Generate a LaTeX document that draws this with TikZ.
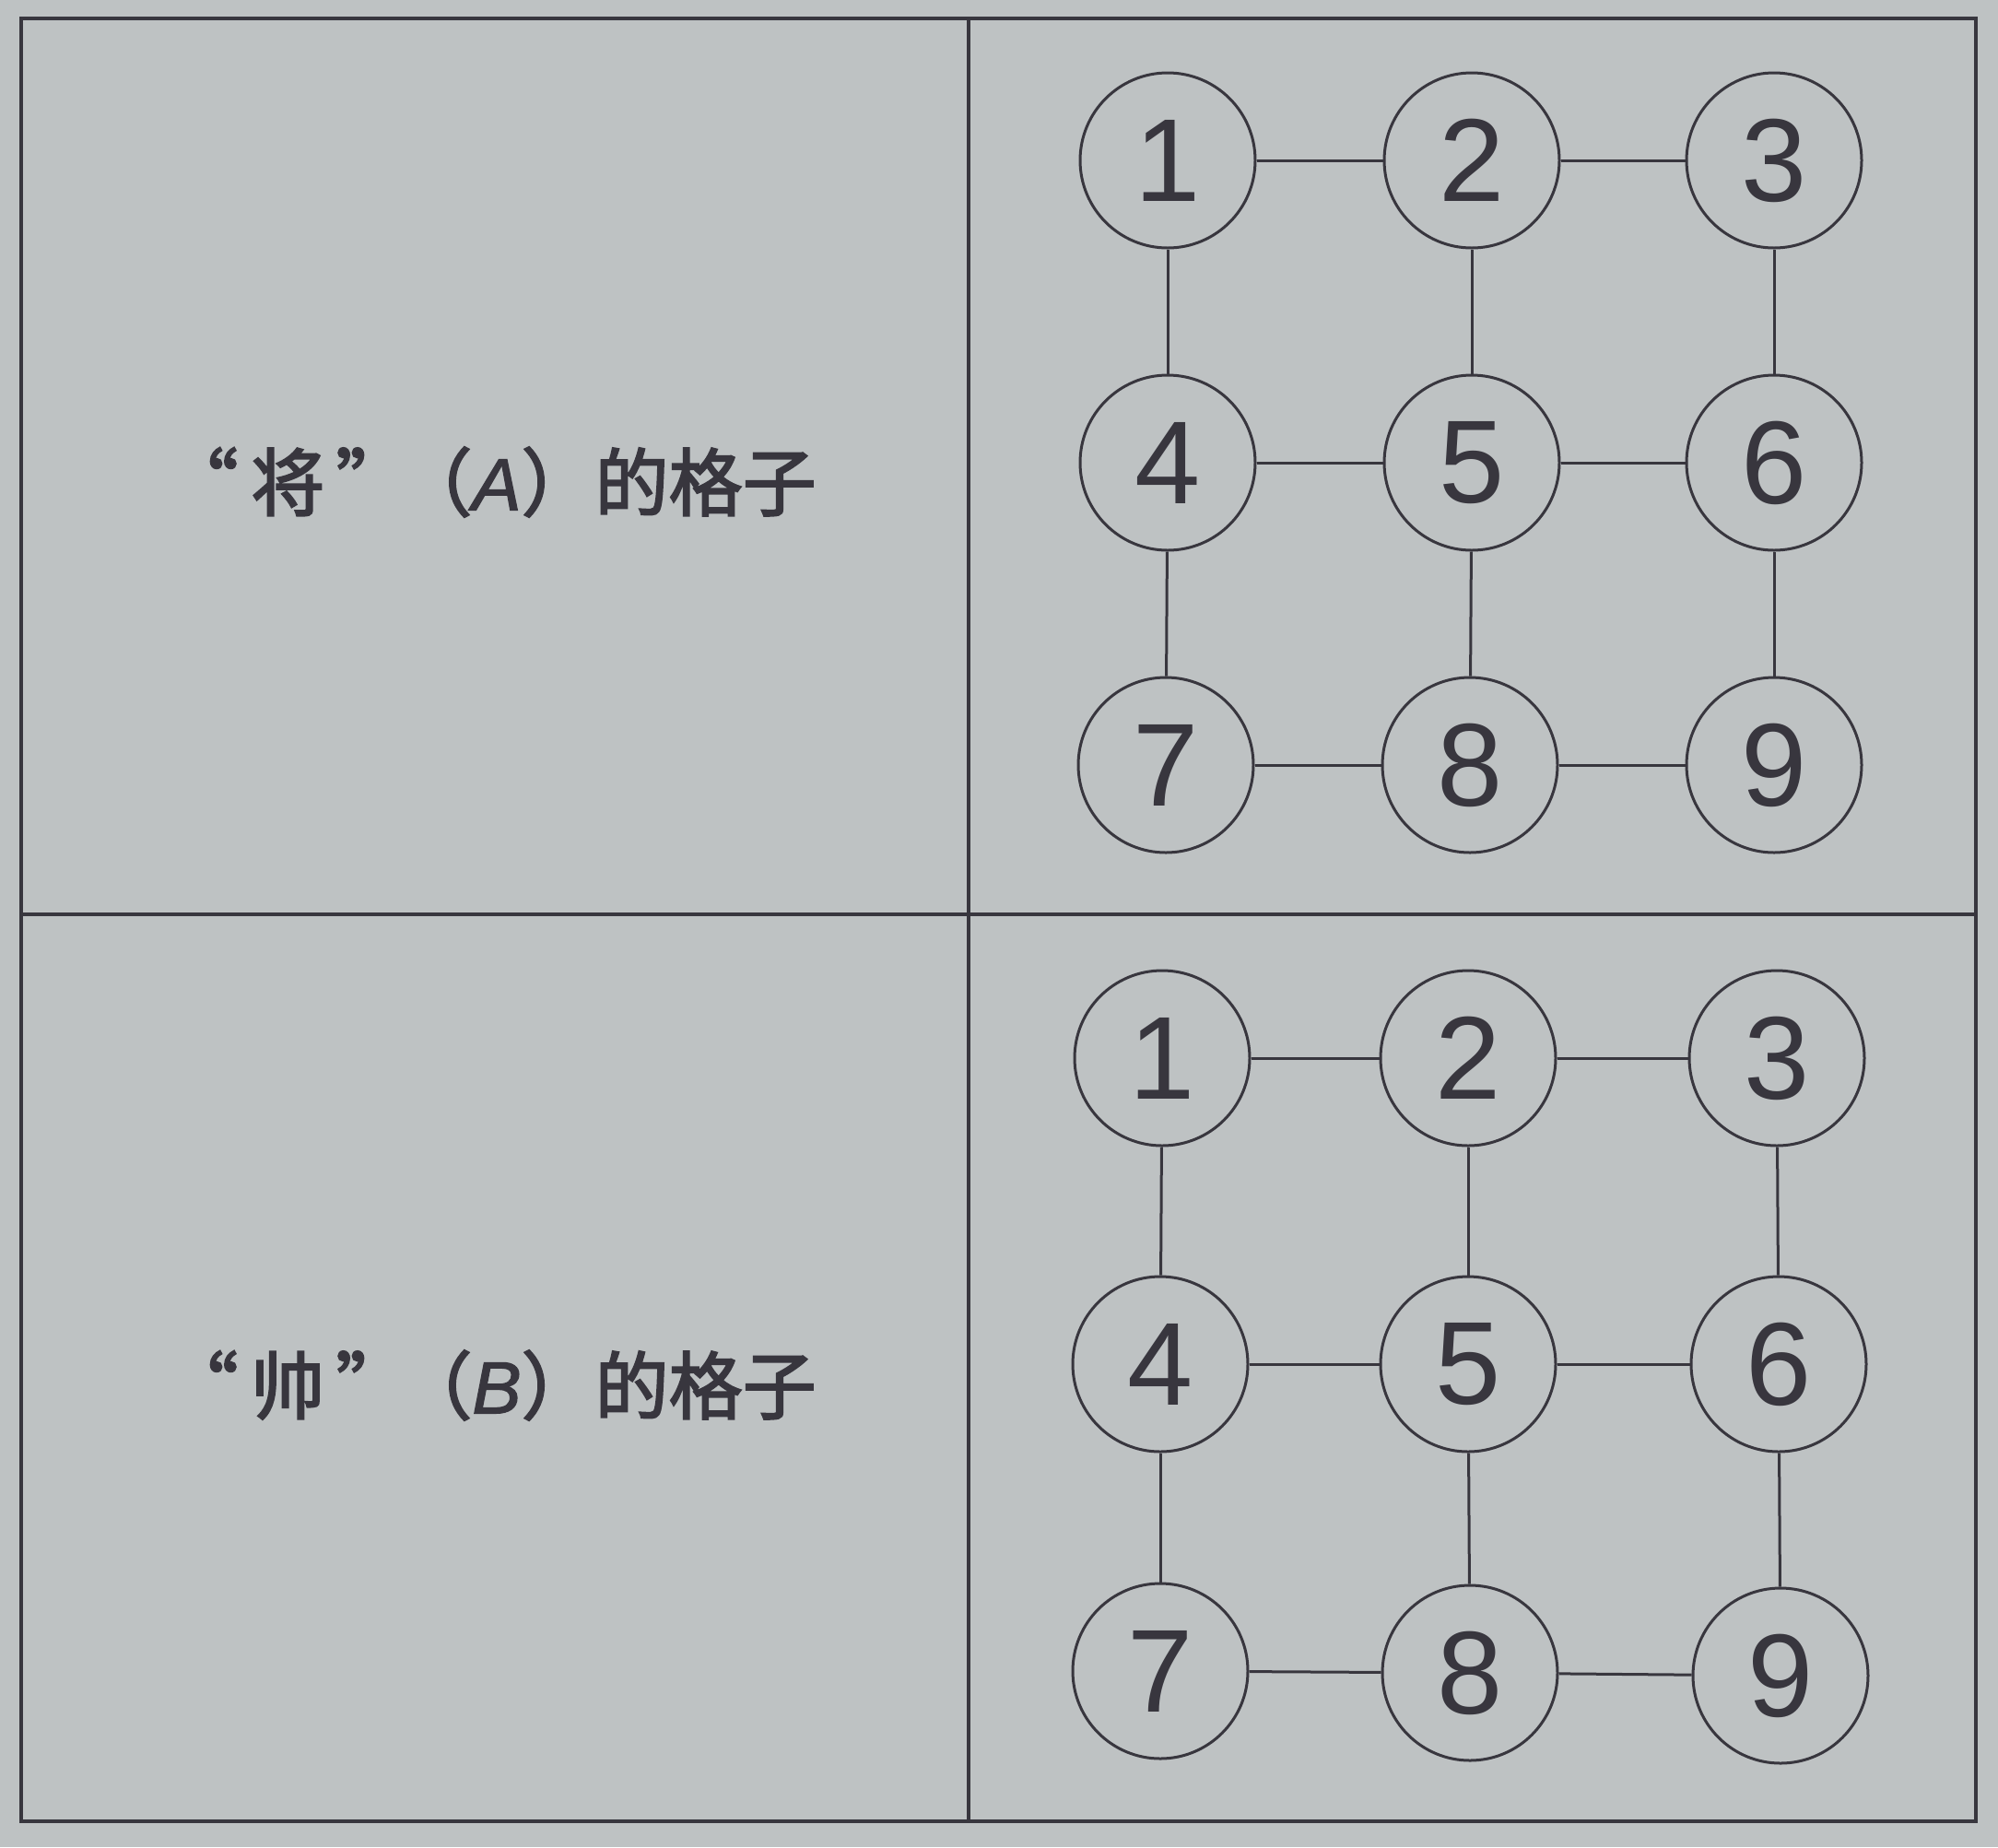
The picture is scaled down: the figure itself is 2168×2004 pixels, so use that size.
\documentclass[tikz,border=0pt]{standalone}
\usepackage{fontspec}
\setmainfont{Liberation Sans}
\newfontfamily\cjk{Noto Sans CJK SC}[FakeBold=2.5]
\newfontfamily\latit{Liberation Sans}[FakeBold=1.5]
\newcommand{\myoq}{\makebox[1em][r]{“\hspace{0.17em}}}
\newcommand{\mycq}{\makebox[1em][l]{\hspace{0.15em}”}}
\definecolor{paper}{RGB}{190,194,195}
\definecolor{ink}{RGB}{56,54,62}
\begin{document}
\begin{tikzpicture}[x=0.5pt,y=-0.5pt,
  cell/.style={circle,draw=ink,line width=1.5pt,minimum size=95pt,inner sep=0pt,
    text=ink,font=\fontsize{64}{64}\selectfont},
  link/.style={draw=ink,line width=1.5pt},
  frame/.style={draw=ink,line width=2pt},
  caption/.style={text=ink,inner sep=0pt,font=\fontsize{40}{40}\selectfont}]
\fill[paper] (0,0) rectangle (2168,2004);
\useasboundingbox (0,0) rectangle (2168,2004);
% frame and dividers
\draw[frame] (23,20) rectangle (2144,1976);
\draw[frame] (1051,20) -- (1051,1976);
\draw[frame] (23,992) -- (2144,992);
% captions
\node[caption] (capA) at (539,523) {{\cjk\myoq 将\mycq（}{\latit\itshape A}{\cjk ）的格子}};
\node[caption] (capB) at (539,1503) {{\cjk\myoq 帅\mycq（}{\latit\itshape B}{\cjk ）的格子}};
% top grid
\foreach \n/\x/\y in {1/1267/174,2/1597/174,3/1925/174,4/1267/502,5/1597/502,6/1925/502,7/1265/830,8/1595/830,9/1925/830}
  \node[cell] (a\n) at (\x,\y) {\n};
% bottom grid
\foreach \n/\x/\y in {1/1261/1148,2/1593/1148,3/1928/1148,4/1259/1480,5/1593/1480,6/1930/1480,7/1259/1813,8/1595/1815,9/1932/1818}
  \node[cell] (b\n) at (\x,\y) {\n};
\foreach \g in {a,b}{
  \foreach \p/\q in {1/2,2/3,4/5,5/6,7/8,8/9,1/4,2/5,3/6,4/7,5/8,6/9}
    \draw[link] (\g\p) -- (\g\q);
}
\end{tikzpicture}
\end{document}
